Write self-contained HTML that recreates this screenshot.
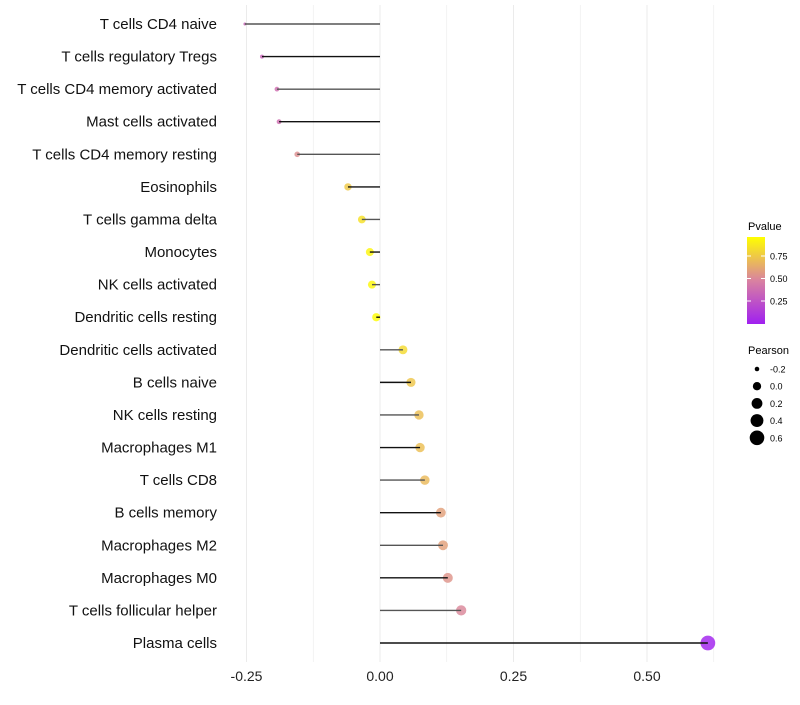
<!DOCTYPE html>
<html><head><meta charset="utf-8"><style>
body{margin:0;background:#fff;font-family:"Liberation Sans",sans-serif}
</style></head><body>
<svg id="c" width="800" height="700" xmlns="http://www.w3.org/2000/svg"></svg>
<script>
const categories=["T cells CD4 naive","T cells regulatory  Tregs","T cells CD4 memory activated","Mast cells activated","T cells CD4 memory resting","Eosinophils","T cells gamma delta","Monocytes","NK cells activated","Dendritic cells resting","Dendritic cells activated","B cells naive","NK cells resting","Macrophages M1","T cells CD8","B cells memory","Macrophages M2","Macrophages M0","T cells follicular helper","Plasma cells"];
const pearson=[-0.253,-0.221,-0.193,-0.189,-0.155,-0.060,-0.034,-0.019,-0.015,-0.007,0.043,0.058,0.073,0.075,0.084,0.114,0.118,0.127,0.152,0.614];
const pvalues=[0.35,0.35,0.40,0.40,0.55,0.78,0.88,0.96,0.97,0.99,0.85,0.77,0.74,0.74,0.72,0.62,0.62,0.57,0.52,0.01];
const xTicks=[-0.25,0,0.25,0.5];
const xTickLabels=["-0.25","0.00","0.25","0.50"];
const legendP=[0.75,0.5,0.25];
const legendSizes=[-0.2,0,0.2,0.4,0.6];
const NS="http://www.w3.org/2000/svg",svg=document.getElementById("c");
const x=v=>380+v*534, y=i=>24+i*(619/19);
function el(t,a,p){const e=document.createElementNS(NS,t);for(const k in a)e.setAttribute(k,a[k]);(p||svg).appendChild(e);return e;}
function col(p){const s=[[0,[160,32,240]],[0.5,[217,130,160]],[1,[255,255,0]]];let a=s[0],b=s[1];if(p>0.5){a=s[1];b=s[2];}const t=(p-a[0])/(b[0]-a[0]);return "rgb("+a[1].map((c,i)=>Math.round(c+(b[1][i]-c)*t)).join(",")+")";}
const rad=v=>Math.sqrt(Math.max(2.25,2.25+60*(v+0.25)));
for(let v=-0.25;v<=0.63;v+=0.125){const g=el("line",{x1:x(v),x2:x(v),y1:5,y2:662,stroke:"#ebebeb","stroke-width":Math.abs(v*4-Math.round(v*4))<1e-6?1:0.6});
}
xTicks.forEach((v,i)=>{const t=el("text",{x:x(v),y:681,"text-anchor":"middle","font-size":14,fill:"#222"});t.textContent=xTickLabels[i];
});
categories.forEach((c,i)=>{
const t=el("text",{x:217,y:y(i)+5,"text-anchor":"end","font-size":15,fill:"#111"});t.textContent=c;

const d=el("circle",{cx:x(pearson[i]),cy:y(i),r:rad(pearson[i]),fill:col(pvalues[i]),"fill-opacity":0.82});

const l=el("line",{x1:x(0),x2:x(pearson[i]),y1:y(i),y2:y(i),stroke:i%2?"#111":"#555","stroke-width":1.4});
});
const defs=el("defs",{});const lg=el("linearGradient",{id:"g",x1:0,y1:1,x2:0,y2:0},defs);
[0,0.25,0.5,0.75,1].forEach(o=>el("stop",{offset:o,"stop-color":col(o)},lg));
let t=el("text",{x:748,y:230,"font-size":11});t.textContent="Pvalue";
const r=el("rect",{x:747,y:237,width:18,height:87,fill:"url(#g)"});
legendP.forEach(p=>{const yy=323.5-p*90;el("line",{x1:747,x2:751,y1:yy,y2:yy,stroke:"#fff"});el("line",{x1:761,x2:765,y1:yy,y2:yy,stroke:"#fff"});
const tt=el("text",{x:770,y:yy+3.5,"font-size":9});tt.textContent=p.toFixed(2);});
t=el("text",{x:748,y:354,"font-size":11});t.textContent="Pearson";
legendSizes.forEach((s,i)=>{const yy=369+i*17.2;const c=el("circle",{cx:757,cy:yy,r:rad(s),fill:"#000"});
const tt=el("text",{x:770,y:yy+3.5,"font-size":9});tt.textContent=s.toFixed(1).replace("-0.0","0.0");});
</script>
</body></html>
